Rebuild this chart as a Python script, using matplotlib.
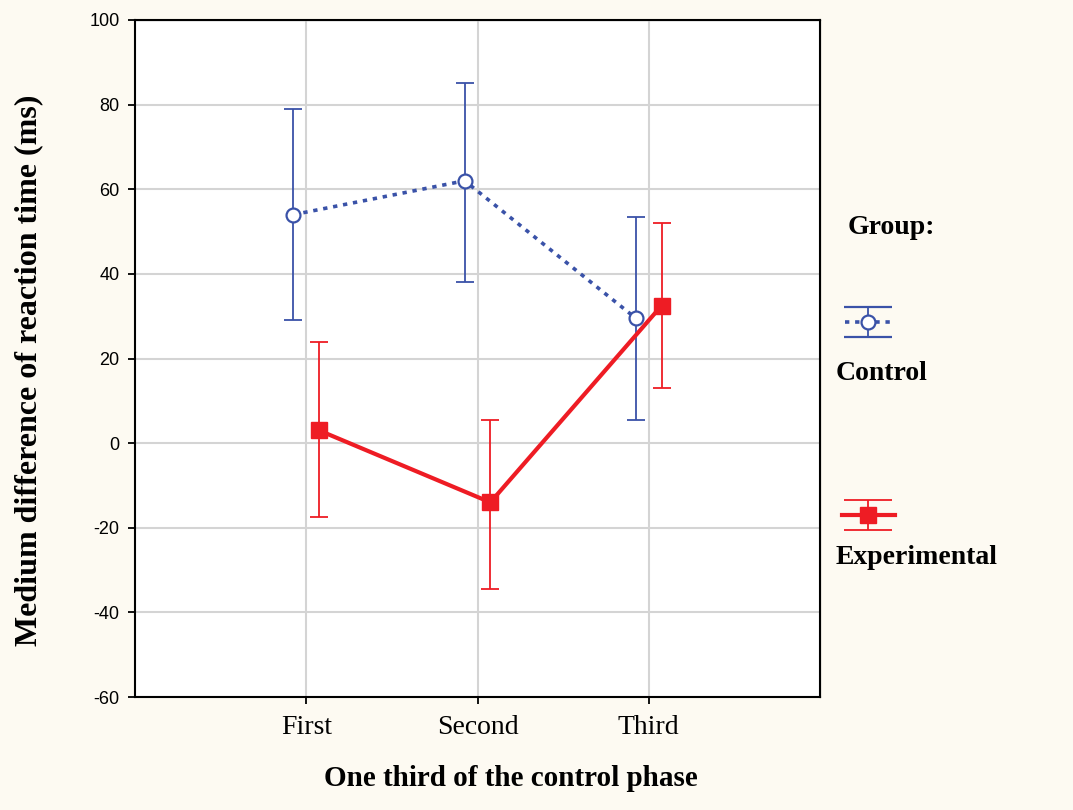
import numpy as np
import matplotlib.pyplot as plt
from matplotlib.lines import Line2D

# Values
categories = ["First", "Second", "Third"]
control_mean = [54, 62, 29.5]
control_low = [29, 38, 5.5]
control_high = [79, 85, 53.5]
exp_mean = [3, -14, 32.5]
exp_low = [-17.5, -34.5, 13]
exp_high = [24, 5.5, 52]

blue = "#3a52a8"
red = "#ee1c24"
serif = "Liberation Serif"
sans = "Liberation Sans"
plt.rcParams["axes.unicode_minus"] = False

fig = plt.figure(figsize=(10.73, 8.10), dpi=100, facecolor="#fdfaf2")
ax = fig.add_axes([135 / 1073, 1 - 697 / 810, 685 / 1073, 677 / 810])
ax.set_facecolor("white")

x = np.arange(1, len(categories) + 1)
off = 0.075

cm = np.array(control_mean)
ax.errorbar(x - off, cm, yerr=[cm - np.array(control_low), np.array(control_high) - cm],
            fmt="none", ecolor=blue, elinewidth=1.3, capsize=6.5, capthick=1.3, zorder=3)
ax.plot(x - off, cm, linestyle=(0, (1.2, 1.6)), color=blue, linewidth=2.6, zorder=4,
        marker="o", markersize=10, markerfacecolor="white", markeredgecolor=blue, markeredgewidth=1.6)

em = np.array(exp_mean)
ax.errorbar(x + off, em, yerr=[em - np.array(exp_low), np.array(exp_high) - em],
            fmt="none", ecolor=red, elinewidth=1.3, capsize=6.5, capthick=1.3, zorder=3)
ax.plot(x + off, em, linestyle="-", color=red, linewidth=3, zorder=4,
        marker="s", markersize=11, markerfacecolor=red, markeredgecolor=red)

ax.set_xlim(0, 4)
ax.set_ylim(-60, 100)
ax.set_yticks(np.arange(-60, 101, 20))
ax.set_xticks(x)
ax.set_xticklabels(categories, fontfamily=serif, fontsize=20)
for t in ax.get_yticklabels():
    t.set_fontfamily(sans)
    t.set_fontsize(13)
ax.grid(True, color="#d4d4d4", linewidth=1.5)
ax.set_axisbelow(True)
for s in ax.spines.values():
    s.set_linewidth(1.5)
ax.tick_params(direction="out", length=5, width=1.3, colors="black")
ax.tick_params(axis="x", pad=8)
ax.tick_params(axis="y", pad=6)

sx = ax.secondary_xaxis("top")
sx.set_xticks(x)
sx.set_xticklabels([])
sx.tick_params(direction="in", length=6, width=1.3)
sy = ax.secondary_yaxis("right")
sy.set_yticks(np.arange(-60, 101, 20))
sy.set_yticklabels([])
sy.tick_params(direction="in", length=6, width=1.3)

ax.set_xlabel("One third of the control phase", fontfamily=serif, fontweight="bold", fontsize=21)
ax.xaxis.set_label_coords(0.549, -0.1)
ax.set_ylabel("Medium difference of reaction time (ms)", fontfamily=serif, fontweight="bold",
              fontsize=23)
ax.yaxis.set_label_coords(-0.134, 0.483)

# legend drawn in figure pixel space
lg = fig.add_axes([0, 0, 1, 1])
lg.set_xlim(0, 1073)
lg.set_ylim(810, 0)
lg.axis("off")
lg.patch.set_alpha(0)
lg.text(848, 228, "Group:", fontfamily=serif, fontweight="bold", fontsize=20, va="center")
lg.add_line(Line2D([845, 893], [322, 322], color=blue, linestyle=(0, (1.2, 1.6)), linewidth=2.6))
lg.errorbar([868], [322], yerr=[[15], [15]], fmt="o", color=blue, markersize=10,
            markerfacecolor="white", markeredgewidth=1.6, elinewidth=1.3, capsize=17, capthick=1.3)
lg.text(836, 373, "Control", fontfamily=serif, fontweight="bold", fontsize=20, va="center")
lg.add_line(Line2D([842, 895], [515, 515], color=red, linewidth=3))
lg.errorbar([868], [515], yerr=[[15], [15]], fmt="s", color=red, markersize=11,
            elinewidth=1.3, capsize=17, capthick=1.3)
lg.text(836, 558, "Experimental", fontfamily=serif, fontweight="bold", fontsize=20, va="center")

fig.savefig("out.png", dpi=100, facecolor=fig.get_facecolor())
